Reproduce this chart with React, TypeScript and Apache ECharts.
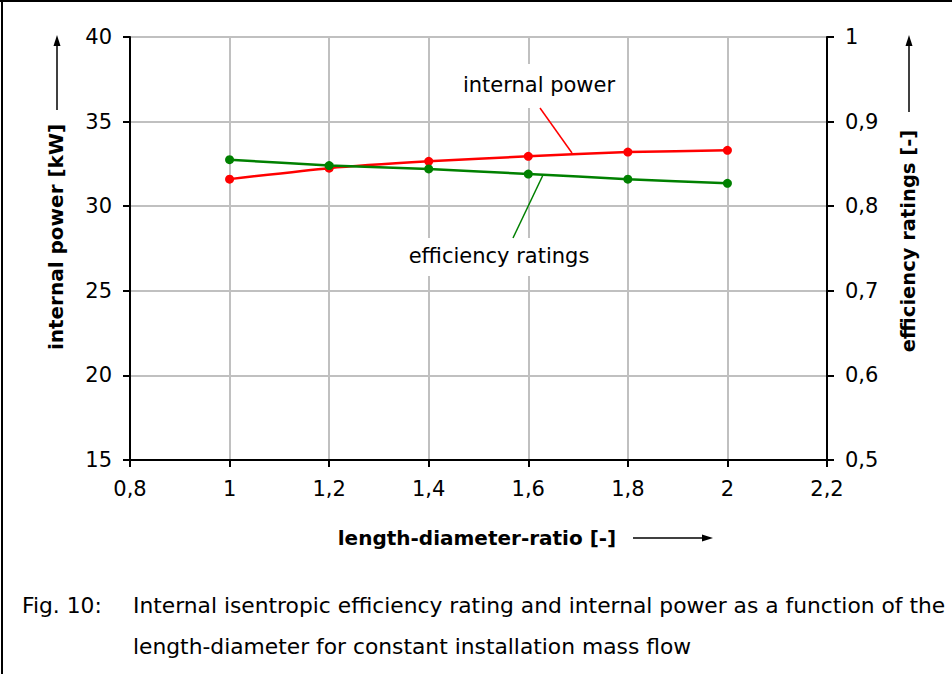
import React, { useEffect, useRef } from "react";
import * as echarts from "echarts";

const ratios = [1, 1.2, 1.4, 1.6, 1.8, 2];
const internalPower = [31.6, 32.25, 32.65, 32.95, 33.2, 33.3];
const efficiency = [0.855, 0.848, 0.844, 0.838, 0.832, 0.827];

const xTicks = { min: 0.8, max: 2.2, interval: 0.2 };
const leftTicks = { min: 15, max: 40, interval: 5 };
const rightTicks = { min: 0.5, max: 1, interval: 0.1 };

const FONT = "DejaVu Sans";
const fmt = (v: number) => String(Math.round(v * 10) / 10).replace(".", ",");

export default function App() {
  const ref = useRef<HTMLDivElement>(null);
  useEffect(() => {
    document.body.style.margin = "0";
    const chart = echarts.init(ref.current!, null, { renderer: "svg" });
    const axisLabel = { color: "#000", fontFamily: FONT, fontSize: 21, formatter: fmt, margin: 18 };
    const axisLine = { show: true, lineStyle: { color: "#000", width: 2 } };
    const axisTick = { show: true, length: 7, lineStyle: { color: "#000", width: 2 } };
    const splitLine = { show: true, lineStyle: { color: "#c0c0c0", width: 2 } };
    const black = { stroke: "#000", lineWidth: 2 };
    const capFont = `21.8px '${FONT}'`;
    chart.setOption({
      animation: false,
      backgroundColor: "#fff",
      grid: { left: 130, top: 37, right: 125, bottom: 214 },
      xAxis: {
        type: "value", ...xTicks,
        axisLine: { ...axisLine, onZero: false }, axisTick, splitLine,
        axisLabel: { ...axisLabel, margin: 18 },
      },
      yAxis: [
        { type: "value", ...leftTicks, position: "left", axisLine, axisTick, splitLine, axisLabel },
        { type: "value", ...rightTicks, position: "right", axisLine, axisTick, splitLine: { show: false }, axisLabel },
      ],
      series: [
        {
          name: "internal power", type: "line", yAxisIndex: 0, smooth: 0.2,
          data: ratios.map((r, i) => [r, internalPower[i]]),
          symbol: "circle", symbolSize: 9,
          itemStyle: { color: "#ff0000" }, lineStyle: { color: "#ff0000", width: 2.5 }, z: 3,
        },
        {
          name: "efficiency ratings", type: "line", yAxisIndex: 1, smooth: 0.2,
          data: ratios.map((r, i) => [r, efficiency[i]]),
          symbol: "circle", symbolSize: 9,
          itemStyle: { color: "#008000" }, lineStyle: { color: "#008000", width: 2.5 }, z: 4,
        },
      ],
      graphic: [
        { type: "line", shape: { x1: 0, y1: 1, x2: 952, y2: 1 }, style: black, z: 10 },
        { type: "line", shape: { x1: 2, y1: 0, x2: 2, y2: 674 }, style: black, z: 10 },
        { type: "rect", shape: { x: 452, y: 64, width: 175, height: 44 }, style: { fill: "#fff" }, z: 1 },
        { type: "rect", shape: { x: 398, y: 238, width: 202, height: 38 }, style: { fill: "#fff" }, z: 1 },
        { type: "line", shape: { x1: 540, y1: 108, x2: 572, y2: 153 }, style: { stroke: "#ff0000", lineWidth: 1.5 }, z: 5 },
        { type: "line", shape: { x1: 543, y1: 175, x2: 513, y2: 238 }, style: { stroke: "#008000", lineWidth: 1.5 }, z: 5 },
        { type: "text", x: 539, y: 85, style: { text: "internal power", align: "center", verticalAlign: "middle", font: `21px '${FONT}'`, fill: "#000" }, z: 10 },
        { type: "text", x: 499, y: 256, style: { text: "efficiency ratings", align: "center", verticalAlign: "middle", font: `21px '${FONT}'`, fill: "#000" }, z: 10 },
        { type: "text", x: 56, y: 237, rotation: Math.PI / 2, style: { text: "internal power [kW]", align: "center", verticalAlign: "middle", font: `bold 20px '${FONT}'`, fill: "#000" }, z: 10 },
        { type: "text", x: 908, y: 241, rotation: Math.PI / 2, style: { text: "efficiency ratings [-]", align: "center", verticalAlign: "middle", font: `bold 19.5px '${FONT}'`, fill: "#000" }, z: 10 },
        { type: "text", x: 477, y: 538, style: { text: "length-diameter-ratio [-]", align: "center", verticalAlign: "middle", font: `bold 20px '${FONT}'`, fill: "#000" }, z: 10 },
        { type: "line", shape: { x1: 57, y1: 110, x2: 57, y2: 44 }, style: { stroke: "#000", lineWidth: 1.5 }, z: 10 },
        { type: "polygon", shape: { points: [[57, 35], [53.5, 46], [60.5, 46]] }, style: { fill: "#000" }, z: 10 },
        { type: "line", shape: { x1: 909, y1: 112, x2: 909, y2: 44 }, style: { stroke: "#000", lineWidth: 1.5 }, z: 10 },
        { type: "polygon", shape: { points: [[909, 35], [905.5, 46], [912.5, 46]] }, style: { fill: "#000" }, z: 10 },
        { type: "line", shape: { x1: 633, y1: 538, x2: 704, y2: 538 }, style: { stroke: "#000", lineWidth: 1.5 }, z: 10 },
        { type: "polygon", shape: { points: [[713, 538], [702, 534.5], [702, 541.5]] }, style: { fill: "#000" }, z: 10 },
        { type: "text", x: 22, y: 605, style: { text: "Fig. 10:", align: "left", verticalAlign: "middle", font: capFont, fill: "#000" }, z: 10 },
        { type: "text", x: 133, y: 605, style: { text: "Internal isentropic efficiency rating and internal power as a function of the", align: "left", verticalAlign: "middle", font: capFont, fill: "#000" }, z: 10 },
        { type: "text", x: 133, y: 646, style: { text: "length-diameter for constant installation mass flow", align: "left", verticalAlign: "middle", font: capFont, fill: "#000" }, z: 10 },
      ],
    });
    return () => chart.dispose();
  }, []);
  return <div ref={ref} style={{ width: 952, height: 674 }} />;
}
